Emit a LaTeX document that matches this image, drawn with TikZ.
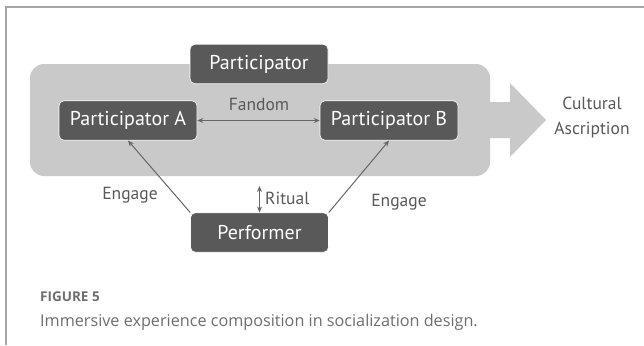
\documentclass[tikz,border=0pt]{standalone}
\usepackage{fontspec}
\setmainfont{Open Sans}
\newfontfamily\diagfont{PT Sans}
\usetikzlibrary{arrows.meta}
\definecolor{boxgray}{HTML}{595959}
\definecolor{bggray}{HTML}{C9C9C9}
\definecolor{linegray}{HTML}{666666}
\definecolor{txtgray}{HTML}{595959}
\definecolor{capgray}{HTML}{6E6E6E}
\begin{document}
\begin{tikzpicture}[x=1pt,y=-1pt,
  darkbox/.style={draw=white, line width=0.6pt, fill=boxgray, rounded corners=5pt, text=white,
    font=\diagfont\fontsize{20}{22}\selectfont, minimum width=138pt, minimum height=39.5pt, inner sep=0pt},
  conn/.style={draw=linegray, line width=1pt, -{Stealth[length=6pt,width=5pt]}},
  dconn/.style={draw=linegray, line width=1pt, {Stealth[length=6pt,width=5pt]}-{Stealth[length=6pt,width=5pt]}},
  lbl/.style={text=txtgray, font=\diagfont\fontsize{17.5}{25}\selectfont, inner sep=0pt}]
\useasboundingbox (0,0) rectangle (644,345);
\fill[white] (0,0) rectangle (644,345);
\draw[color=gray!70, line width=1.5pt] (6,345) -- (6,7) -- (644,7);
% background panel and arrow
\fill[bggray] (485,102) -- (510,102) -- (510,83) -- (546,120) -- (510,157) -- (510,138) -- (485,138) -- cycle;
\fill[bggray, rounded corners=14pt] (30,64) rectangle (490,176);
% nodes
\node[darkbox] (part) at (259,64) {Participator};
\node[darkbox] (pa) at (128,120.5) {Participator A};
\node[darkbox] (pb) at (389,120.5) {Participator B};
\node[darkbox] (perf) at (259.5,232.5) {Performer};
% connectors
\draw[dconn] (pa.east) -- (pb.west);
\node[lbl] (fandom) at (259,104) {Fandom};
\coordinate (ritT) at (259.5,186);
\draw[dconn] (ritT) -- (perf.north);
\node[lbl, anchor=west] (ritual) at (265,198) {Ritual};
\draw[conn] (perf.north west) -- (pa.south);
\draw[conn] (perf.north east) -- (pb.south);
\node[lbl] (eng1) at (130,195) {Engage};
\node[lbl] (eng2) at (399,202) {Engage};
\node[lbl, align=center] (cult) at (592,118) {Cultural\\Ascription};
% caption
\node[anchor=west, inner sep=0pt, text=capgray, font=\fontsize{13.5}{15}\selectfont\bfseries] (fig) at (40,297) {FIGURE 5};
\node[anchor=west, inner sep=0pt, text=capgray, font=\fontsize{16.2}{18}\selectfont] (cap) at (40,322) {Immersive experience composition in socialization design.};
\end{tikzpicture}
\end{document}
